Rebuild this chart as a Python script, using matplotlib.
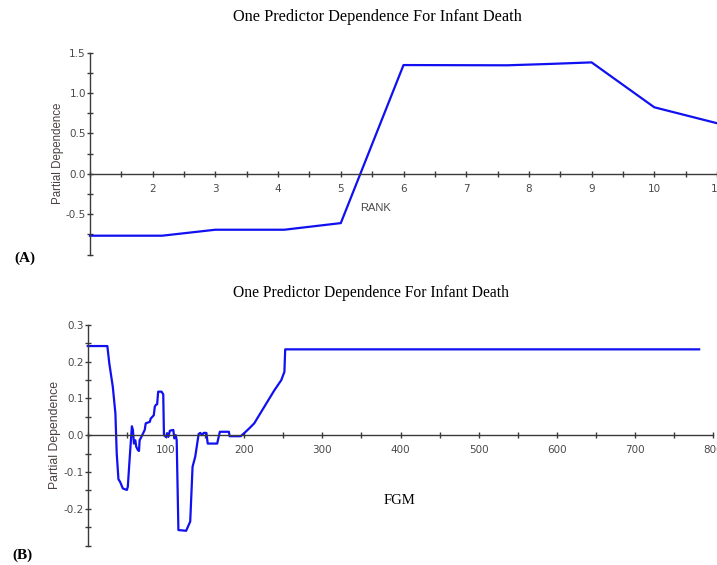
import matplotlib.pyplot as plt
import numpy as np
from matplotlib.ticker import FormatStrFormatter, MultipleLocator

plt.rcParams['axes.unicode_minus'] = False

# Panel A: RANK
rank = [1, 2.15, 3, 4.1, 5, 6, 7.65, 8.3, 9, 10, 11]
rank_pd = [-0.766, -0.766, -0.692, -0.692, -0.61, 1.347, 1.344, 1.36, 1.38, 0.824, 0.627]

# Panel B: FGM
fgm = [0, 25, 27.5, 32, 35.3, 37, 39.2, 41.3, 44.8, 50, 51.2, 53.4, 56.4, 57.7,
       59, 60.7, 62, 64.2, 65.5, 66.3, 68.5, 72.8, 74.1, 79.3, 80.5, 82.7, 84.4,
       85.7, 87, 88.7, 90, 94.3, 96.5, 97.4, 100, 101.7, 103, 105, 109.4, 110.7,
       112.4, 113.7, 115.9, 125.8, 131, 134, 137.4, 141.8, 143.9, 146.1, 148.2,
       151.7, 153.4, 165.5, 168.9, 180.5, 181.4, 195.6, 199.9, 206.4, 212.9,
       225.8, 238.7, 247.4, 251.5, 252.5, 782]
fgm_pd = [0.242, 0.242, 0.195, 0.131, 0.059, -0.05, -0.12, -0.127, -0.145,
          -0.149, -0.14, -0.068, 0.024, 0.014, -0.023, -0.014, -0.032, -0.041,
          -0.043, -0.014, -0.005, 0.014, 0.032, 0.036, 0.045, 0.05, 0.054, 0.077,
          0.082, 0.084, 0.118, 0.118, 0.111, 0.0, -0.005, 0.005, -0.005, 0.012,
          0.014, -0.009, 0.0, -0.014, -0.258, -0.26, -0.235, -0.086, -0.059,
          0.003, 0.006, 0.0, 0.006, 0.006, -0.023, -0.023, 0.009, 0.009, -0.003,
          -0.003, 0.005, 0.018, 0.032, 0.077, 0.122, 0.149, 0.172, 0.233, 0.233]

title = 'One Predictor Dependence For Infant Death'
axis_col = '#3a3a3a'
text_col = '#4a4a4a'
line_col = '#1010f0'

fig = plt.figure(figsize=(7.17, 5.65), dpi=100)


def style_axes(ax):
    ax.spines['top'].set_visible(False)
    ax.spines['right'].set_visible(False)
    ax.spines['bottom'].set_position(('data', 0))
    for s in ('left', 'bottom'):
        ax.spines[s].set_color(axis_col)
        ax.spines[s].set_linewidth(1.0)
        ax.spines[s].set_clip_on(False)
    ax.tick_params(which='both', direction='inout', length=5, width=1,
                   color=axis_col, labelcolor=text_col, labelsize=7.5,
                   labelfontfamily='DejaVu Sans')
    ax.tick_params(axis='y', which='both', pad=0.5)
    ax.tick_params(axis='x', which='both', pad=4.5)
    ax.yaxis.set_major_formatter(FormatStrFormatter('%.1f'))
    ax.patch.set_visible(False)


# ---- (A)
ax1 = fig.add_axes([90 / 717, 1 - 254.6 / 565, 627 / 717, (254.6 - 52.7) / 565])
ax1.plot(rank, rank_pd, color=line_col, lw=1.6, clip_on=False)
ax1.set_xlim(1, 11)
ax1.set_ylim(-1.0, 1.5)
ax1.set_xticks(range(2, 12))
ax1.xaxis.set_minor_locator(MultipleLocator(0.5))
ax1.set_yticks([-0.5, 0.0, 0.5, 1.0, 1.5])
ax1.yaxis.set_minor_locator(MultipleLocator(0.25))
style_axes(ax1)
ax1.set_ylabel('Partial Dependence', fontsize=8.3, color='#4a4040',
               family='Liberation Sans', labelpad=1)
fig.text(360 / 717, 1 - 208 / 565, 'RANK', ha='left', va='center',
         fontsize=8, color=text_col, family='Liberation Sans')
fig.text(377 / 717, 1 - 17 / 565, title, ha='center', va='center',
         family='Liberation Serif', fontsize=11.7)
fig.text(14 / 717, 1 - 258 / 565, '(A)', ha='left', va='center',
         family='Liberation Serif', fontsize=11, fontweight='bold')

# ---- (B)
ax2 = fig.add_axes([87.8 / 717, 1 - 545.5 / 565, 625.4 / 717, (545.5 - 324.7) / 565])
ax2.plot(fgm, fgm_pd, color=line_col, lw=1.6, clip_on=False)
ax2.set_xlim(0, 800)
ax2.set_ylim(-0.3, 0.3)
ax2.set_xticks(range(100, 900, 100))
ax2.xaxis.set_minor_locator(MultipleLocator(50))
ax2.set_yticks([-0.2, -0.1, 0.0, 0.1, 0.2, 0.3])
ax2.yaxis.set_minor_locator(MultipleLocator(0.05))
style_axes(ax2)
ax2.set_ylabel('Partial Dependence', fontsize=8.8, color='#4a4040',
               family='Liberation Sans', labelpad=2)
fig.text(399 / 717, 1 - 500 / 565, 'FGM', ha='center', va='center',
         family='Liberation Serif', fontsize=10.5)
fig.text(371 / 717, 1 - 293 / 565, title, ha='center', va='center',
         family='Liberation Serif', fontsize=11.2)
fig.text(12 / 717, 1 - 555 / 565, '(B)', ha='left', va='center',
         family='Liberation Serif', fontsize=11, fontweight='bold')

plt.savefig('out.png', dpi=100)
